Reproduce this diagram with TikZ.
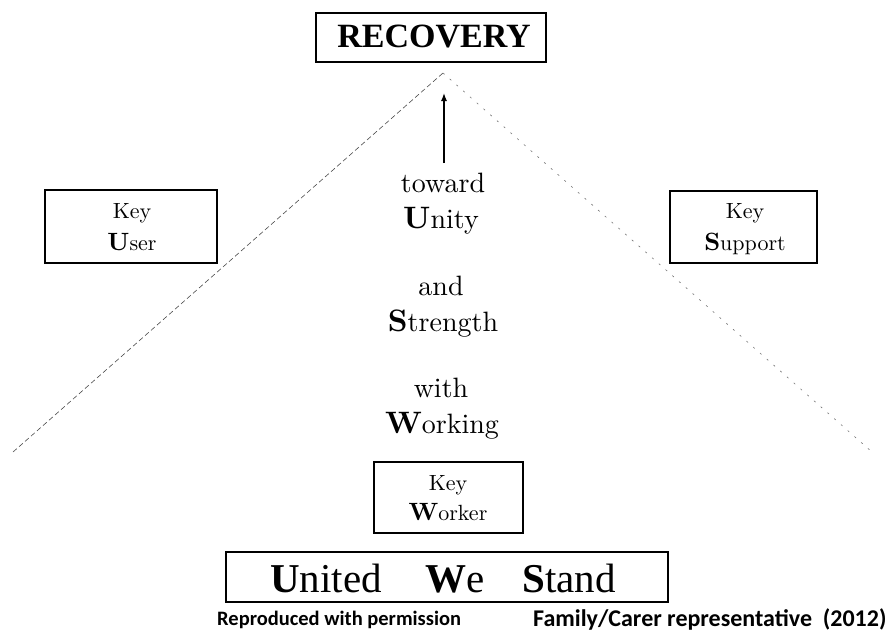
\documentclass[tikz,border=0pt]{standalone}
\usepackage{fontspec}
\usetikzlibrary{arrows.meta}
\newfontfamily\timesfont{Liberation Serif}
\newfontfamily\lmfont{lmroman10-regular.otf}[BoldFont=lmroman10-bold.otf]
\newfontfamily\calibri{Carlito}
\tikzset{
  framebox/.style={draw=black, line width=1.1pt, inner sep=0pt},
  keyline/.style={anchor=base, inner sep=0pt, font=\lmfont\fontsize{22}{22}\selectfont},
  midline/.style={anchor=base, inner sep=0pt, font=\lmfont\fontsize{28}{28}\selectfont},
  uwsword/.style={anchor=base west, inner sep=0pt, font=\timesfont\fontsize{41}{41}\selectfont},
  credit/.style={anchor=west, inner sep=0pt},
  slopeL/.style={draw=black!70, line width=0.6pt, dash pattern=on 5pt off 3pt},
  slopeR/.style={draw=black!55, line width=0.6pt, dash pattern=on 2pt off 7pt},
}
\newcommand{\bigkey}[1]{{\bfseries\fontsize{25}{25}\selectfont #1}}
\newcommand{\bigmid}[1]{{\bfseries\fontsize{31}{31}\selectfont #1}}
\begin{document}
\begin{tikzpicture}[x=1pt,y=-1pt]
\useasboundingbox (0,0) rectangle (892,635);
\fill[white] (0,0) rectangle (892,635);

% triangle
\coordinate (apex) at (443,73);
\coordinate (baseL) at (13,452);
\coordinate (baseR) at (872,452);
\draw[slopeL] (baseL) -- (apex);
\draw[slopeR] (apex) -- (baseR);

% top box
\node[framebox, minimum width=230pt, minimum height=49pt] (rec) at (431,37.5) {};
\node[anchor=base, inner sep=0pt, font=\timesfont\bfseries\fontsize{34}{34}\selectfont] (rect) at (434,47) {RECOVERY};

% side boxes
\node[framebox, minimum width=172pt, minimum height=73pt] (userbox) at (131,226.5) {};
\node[keyline] (user1) at (132,218) {Key};
\node[keyline] (user2) at (132,250) {\bigkey{U}ser};
\node[framebox, minimum width=147pt, minimum height=72pt] (supbox) at (743.5,227) {};
\node[keyline] (sup1) at (745,218) {Key};
\node[keyline] (sup2) at (745,250) {\bigkey{S}upport};

% middle text
\node[midline] (t1a) at (443,192) {toward};
\node[midline] (t1b) at (441,228) {\bigmid{U}nity};
\node[midline] (t2a) at (441,295) {and};
\node[midline] (t2b) at (443,331) {\bigmid{S}trength};
\node[midline] (t3a) at (441,397) {with};
\node[midline] (t3b) at (442,433) {\bigmid{W}orking};

% arrow
\coordinate (arrowtip) at (444,93);
\coordinate (arrowtail) at (444,163);
\draw[-{Latex[length=8pt,width=6pt]}, line width=1.3pt] (arrowtail) -- (arrowtip);

% key worker
\node[framebox, minimum width=149pt, minimum height=71pt] (workbox) at (448.5,497.5) {};
\node[keyline] (work1) at (448,490) {Key};
\node[keyline] (work2) at (448,520) {\bigkey{W}orker};

% united we stand
\node[framebox, minimum width=442pt, minimum height=50pt] (uwsbox) at (447,577) {};
\node[uwsword] (w1) at (270,592) {\textbf{U}nited};
\node[uwsword] (w2) at (425,592) {\textbf{W}e};
\node[uwsword] (w3) at (522,592) {\textbf{S}tand};

% credits
\node[credit, font=\calibri\bfseries\fontsize{20.5}{20.5}\selectfont] (c1) at (217,620) {Reproduced with permission};
\node[credit, font=\calibri\bfseries\fontsize{24}{24}\selectfont] (c2) at (533,619) {Family/Carer representative\ \ (2012)};
\end{tikzpicture}
\end{document}
